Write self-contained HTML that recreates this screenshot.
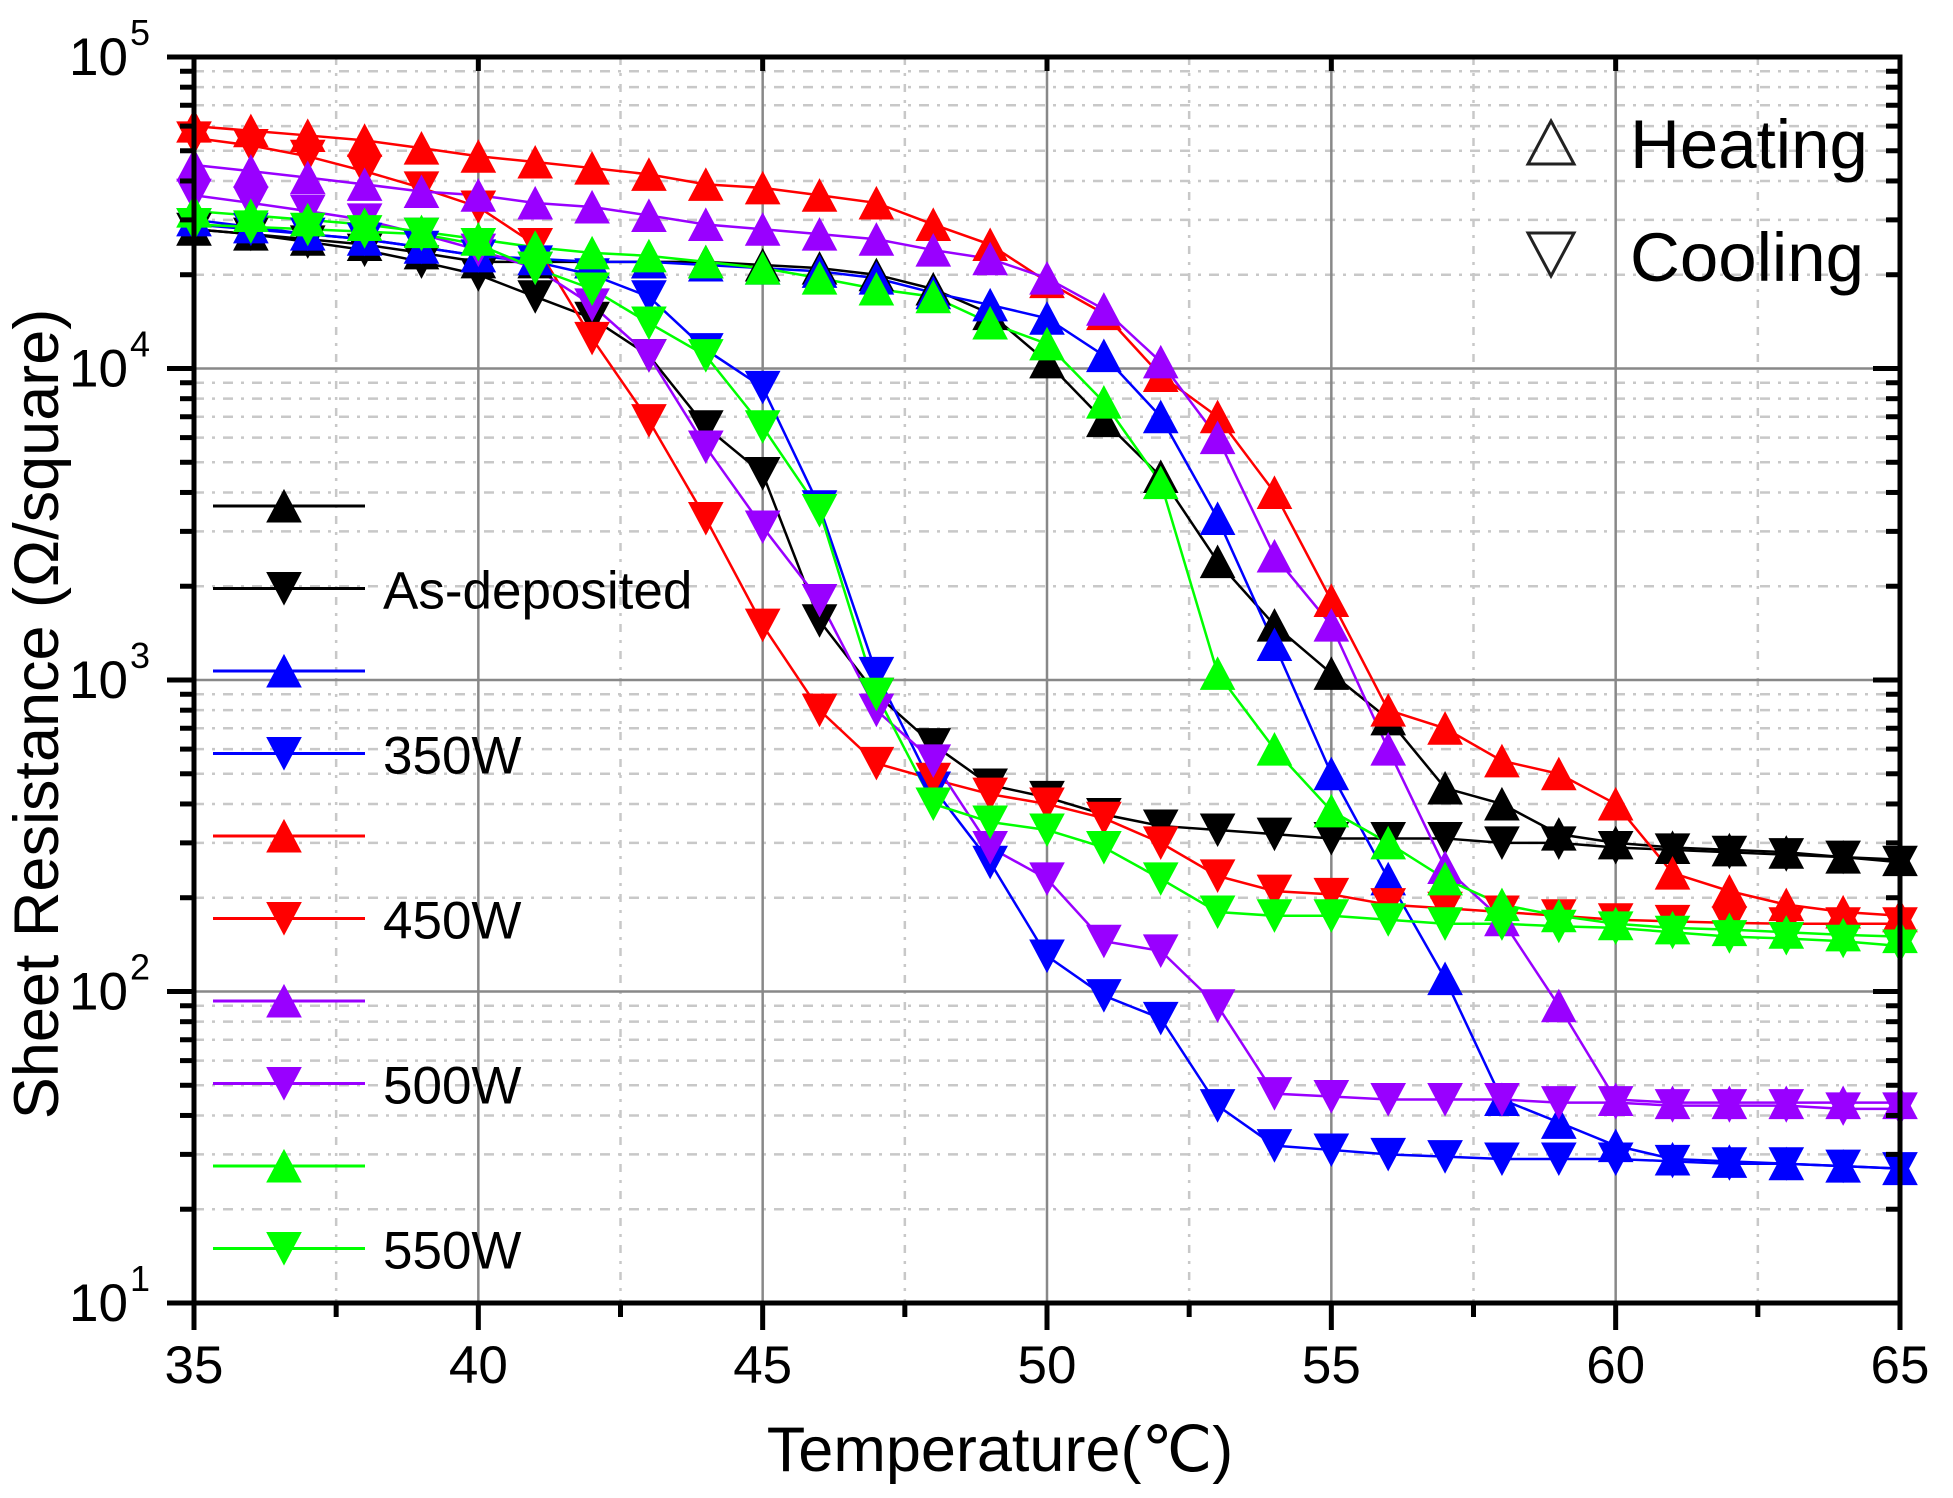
<!DOCTYPE html>
<html><head><meta charset="utf-8"><style>
html,body{margin:0;padding:0;background:#fff}
svg{display:block}
text{font-family:"Liberation Sans",Arial,sans-serif}
</style></head><body>
<svg id="s" width="1953" height="1498" xmlns="http://www.w3.org/2000/svg"></svg>
<script>
const L=194,R=1900,T=57,B=1303;
const X=t=>L+(t-35)*(R-L)/30;
const Y=v=>T+(5-Math.log10(v))*(B-T)/4;
let h='';
for(let t=37.5;t<65;t+=5)h+=`<line x1="${X(t)}" y1="${T}" x2="${X(t)}" y2="${B}" stroke="#c8c8c8" stroke-width="2.5" stroke-dasharray="8,8,3,8"/>`;
for(let d=1;d<5;d++)for(let m=2;m<10;m++){const y=Y(m*Math.pow(10,d));h+=`<line x1="${L}" y1="${y}" x2="${R}" y2="${y}" stroke="#c8c8c8" stroke-width="2.5" stroke-dasharray="10,8,3,8"/>`;}
for(let t=40;t<65;t+=5)h+=`<line x1="${X(t)}" y1="${T}" x2="${X(t)}" y2="${B}" stroke="#888" stroke-width="2.5"/>`;
for(let d=2;d<5;d++){const y=Y(Math.pow(10,d));h+=`<line x1="${L}" y1="${y}" x2="${R}" y2="${y}" stroke="#888" stroke-width="2.5"/>`;}
function tri(x,y,up,c,fill){const w=17,hh=16;
 return up?`<polygon points="${x},${y-hh} ${x+w},${y+hh} ${x-w},${y+hh}" fill="${fill||c}" stroke="${c}" stroke-width="${fill?3:1}"/>`
 :`<polygon points="${x},${y+hh} ${x+w},${y-hh} ${x-w},${y-hh}" fill="${fill||c}" stroke="${c}" stroke-width="${fill?3:1}"/>`;}
const S=[
["#000",true,[28000,27000,26000,25000,23500,22000,22000,22000,22000,22000,21500,21000,20000,18000,15000,10500,6800,4500,2400,1500,1050,750,450,400,320,300,290,285,280,270,265]],
["#000",false,[28000,27000,25500,24000,22000,20000,17000,14500,11000,6500,4600,1550,900,620,460,420,370,340,330,320,310,310,310,300,300,290,285,280,275,270,260]],
["#0000ff",true,[30000,28500,27000,26000,24500,23000,22500,22000,22000,21500,21000,20500,19500,17500,16000,14500,11000,7000,3300,1300,500,230,110,45,38,32,29,28.5,28,27.5,27]],
["#0000ff",false,[29000,28000,27000,26000,24500,23000,22000,20000,17000,11500,8700,3600,1050,450,260,130,97,82,43,32,31,30,29.5,29,29,29,28.5,28,28,27.5,27]],
["#ff0000",true,[60000,58000,56000,54000,51000,48000,46000,44000,42000,39000,38000,36000,34000,29000,25000,19000,15000,9500,7000,4000,1800,800,700,550,500,400,240,210,190,180,175]],
["#ff0000",false,[55000,52000,48000,43000,38000,33000,25000,12500,6800,3300,1500,800,540,480,430,400,360,300,235,210,205,190,185,180,175,170,168,166,165,165,165]],
["#9900ff",true,[45000,43000,41000,39000,37000,36000,34000,33000,31000,29000,28000,27000,26000,24000,22500,19500,15500,10500,6000,2500,1500,600,250,170,90,45,44,44,44,44,44]],
["#9900ff",false,[36000,34000,32000,30000,27000,24000,21000,16000,11000,5600,3100,1800,800,550,290,230,145,135,90,47,46,45,45,45,44,44,43,43,43,42,42]],
["#00ff00",true,[32000,31000,30000,29000,27500,26000,24500,23500,23000,22000,21000,19500,18000,17000,14000,12000,7800,4300,1050,600,380,300,230,190,175,165,160,158,155,152,150]],
["#00ff00",false,[29000,28500,28000,27500,27000,25000,21000,18000,14000,11000,6500,3500,900,400,350,330,290,230,180,175,175,170,165,165,162,160,155,150,148,145,140]]];
for(const [c,up,d] of S){
 let p=d.map((v,i)=>`${X(35+i)},${Y(v)}`).join(' ');
 h+=`<polyline points="${p}" fill="none" stroke="${c}" stroke-width="2.5"/>`;
}
for(const [c,up,d] of S){d.forEach((v,i)=>{h+=tri(X(35+i),Y(v),up,c)});}
const labs=["As-deposited","350W","450W","500W","550W"];
for(let i=0;i<10;i++){const y=506+i*82.5,[c,up]=S[i];
 h+=`<line x1="213" y1="${y}" x2="365" y2="${y}" stroke="${c}" stroke-width="3"/>`+tri(284,y,up,c);
 if(!up)h+=`<text x="383" y="${y+20}" font-size="53">${labs[(i-1)/2]}</text>`;}
h+=`<polygon points="1551,121 1574,164 1528,164" fill="none" stroke="#222" stroke-width="3"/>`;
h+=`<polygon points="1551,276 1574,233 1528,233" fill="none" stroke="#222" stroke-width="3"/>`;
h+=`<text x="1630" y="168" font-size="69">Heating</text><text x="1630" y="281" font-size="69">Cooling</text>`;
for(let t=35;t<=65;t+=2.5){const x=X(t),maj=t%5==0;
 h+=`<line x1="${x}" y1="${B}" x2="${x}" y2="${B+(maj?27:14)}" stroke="#000" stroke-width="5"/>`;
 h+=`<line x1="${x}" y1="${T}" x2="${x}" y2="${T+(maj?14:0)}" stroke="#000" stroke-width="5"/>`;
 if(maj)h+=`<text x="${x}" y="1383" font-size="53" text-anchor="middle">${t}</text>`;}
for(let d=1;d<=5;d++){
 for(let m=1;m<10;m++){if(d==5&&m>1)break;const y=Y(m*Math.pow(10,d)),maj=m==1;
  h+=`<line x1="${L-(maj?27:14)}" y1="${y}" x2="${L}" y2="${y}" stroke="#000" stroke-width="5"/>`;
  h+=`<line x1="${R-(maj?27:14)}" y1="${y}" x2="${R}" y2="${y}" stroke="#000" stroke-width="5"/>`;}
 const y=Y(Math.pow(10,d));
 h+=`<text x="128" y="${y+18}" font-size="53" text-anchor="end">10</text><text x="130" y="${y-12}" font-size="36">${d}</text>`;}
h+=`<rect x="${L}" y="${T}" width="${R-L}" height="${B-T}" fill="none" stroke="#000" stroke-width="5"/>`;
h+=`<text x="1000" y="1471" font-size="63" text-anchor="middle">Temperature(℃)</text>`;
h+=`<text transform="translate(58,714) rotate(-90)" font-size="63" text-anchor="middle">Sheet Resistance (Ω/square)</text>`;
document.getElementById('s').innerHTML=h;
</script>
</body></html>
